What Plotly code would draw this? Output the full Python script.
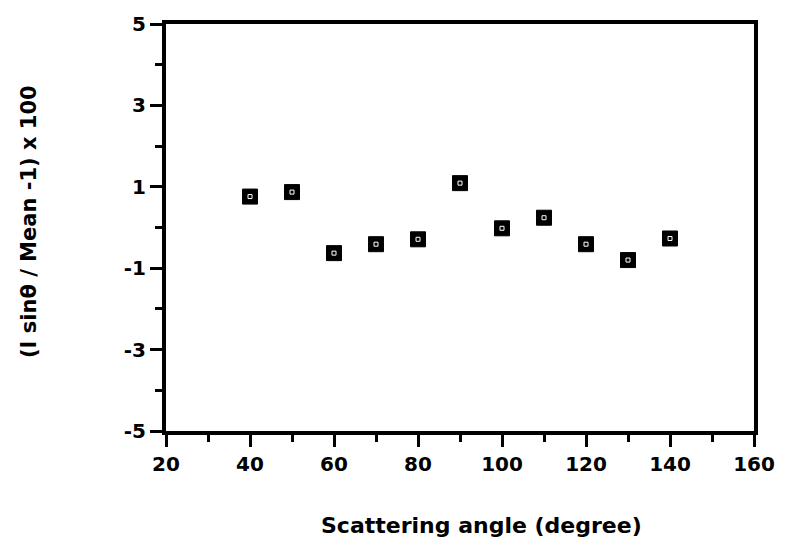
import plotly.graph_objects as go

angles = [40, 50, 60, 70, 80, 90, 100, 110, 120, 130, 140]
deviation = [0.76, 0.87, -0.63, -0.41, -0.29, 1.09, -0.02, 0.24, -0.41, -0.80, -0.27]
x_ticks = [20, 40, 60, 80, 100, 120, 140, 160]
y_ticks = [-5, -3, -1, 1, 3, 5]

fig = go.Figure()
fig.add_trace(go.Scatter(
    x=angles, y=deviation, mode="markers",
    marker=dict(symbol="square", size=15, color="black",
                line=dict(color="black", width=1)),
    showlegend=False,
))
fig.add_trace(go.Scatter(
    x=angles, y=deviation, mode="markers",
    marker=dict(symbol="square-open", size=4, color="white",
                line=dict(color="white", width=1)),
    showlegend=False, hoverinfo="skip",
))

font_family = "DejaVu Sans, Liberation Sans, sans-serif"
fig.update_layout(
    width=787, height=548,
    margin=dict(l=166, r=31, t=23, b=117),
    paper_bgcolor="white", plot_bgcolor="white",
    font=dict(family=font_family, color="black"),
    annotations=[
        dict(text="<b>Scattering angle (degree)</b>", xref="paper", yref="paper",
             x=0.537, y=-0.232, xanchor="center", yanchor="middle", showarrow=False,
             font=dict(size=22, family=font_family, color="black")),
        dict(text="<b>(I sinθ / Mean -1) x 100</b>", xref="paper", yref="paper",
             x=-0.232, y=0.515, xanchor="center", yanchor="middle", showarrow=False,
             textangle=-90, font=dict(size=21, family=font_family, color="black")),
    ],
)
fig.update_xaxes(
    range=[20, 160], tickvals=x_ticks, ticktext=[str(v) for v in x_ticks],
    showgrid=False, zeroline=False,
    showline=True, linecolor="black", linewidth=4, mirror=True,
    ticks="outside", ticklen=12, tickwidth=3, tickcolor="black",
    minor=dict(dtick=10, tick0=20, ticks="outside", ticklen=7, tickwidth=3, tickcolor="black"),
    tickfont=dict(size=20, weight="bold", family=font_family),
)
fig.update_yaxes(
    range=[-5, 5], tickvals=y_ticks, ticktext=[str(v) for v in y_ticks],
    showgrid=False, zeroline=False,
    showline=True, linecolor="black", linewidth=4, mirror=True,
    ticks="outside", ticklen=12, tickwidth=3, tickcolor="black",
    minor=dict(dtick=1, tick0=0, ticks="outside", ticklen=7, tickwidth=3, tickcolor="black"),
    tickfont=dict(size=20, weight="bold", family=font_family),
)

fig.write_html("out.html")
